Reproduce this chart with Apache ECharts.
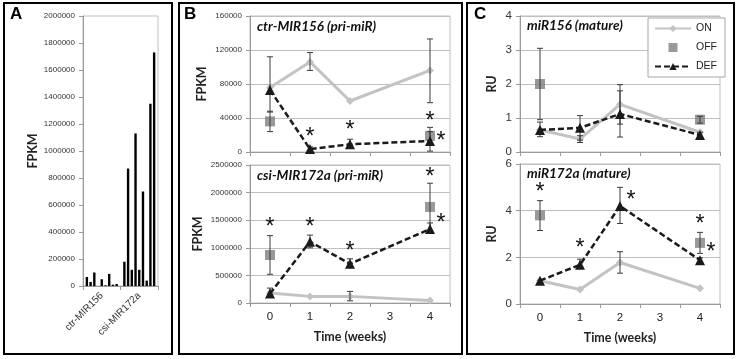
<!DOCTYPE html>
<html><head><meta charset="utf-8">
<script src="https://cdn.jsdelivr.net/npm/echarts@6/dist/echarts.min.js"></script>
<style>html,body{margin:0;padding:0;background:#fff}#c{width:737px;height:359px}</style>
</head><body><div id="c"></div>
<script>
// ---------- Panel A ----------
const aCategories = ['ctr-MIR156', 'csi-MIR172a'];
const aCtr = [67000, 30000, 100000, 0, 50000, 5000, 90000, 10000, 15000];
const aCsi = [180000, 870000, 120000, 1130000, 120000, 700000, 40000, 1350000, 1730000];

// ---------- shared x categories ----------
const weeks = ['0', '1', '2', '3', '4'];

// ---------- Panel B top: ctr-MIR156 (pri-miR) ----------
const onB1 = [76000, 106000, 60000, null, 96000];
const onB1Err = [[47000, 112000], [96000, 117000], null, null, [58000, 133000]];
const offB1 = [36000, null, null, null, 19000];
const offB1Err = [[24000, 48000], null, null, null, [10000, 29000]];
const defB1 = [73000, 3500, 9000, null, 13000];
const defB1Err = [null, [1000, 6000], [5000, 15000], null, [1000, 24000]];
const astB1Above = [[1, 19000], [2, 27000], [4, 38000]];
const astB1Right = [[4, 14000]];

// ---------- Panel B bottom: csi-MIR172a (pri-miR) ----------
const onB2 = [180000, 120000, 120000, null, 45000];
const onB2Err = [null, null, [40000, 210000], null, null];
const offB2 = [870000, null, null, null, 1740000];
const offB2Err = [[520000, 1220000], null, null, null, [1310000, 2170000]];
const defB2 = [170000, 1110000, 710000, null, 1340000];
const defB2Err = [[150000, 270000], [1000000, 1230000], [640000, 800000], null, [1290000, 1450000]];
const astB2Above = [[0, 1400000], [1, 1400000], [2, 970000], [4, 2300000]];
const astB2Right = [[4, 1470000]];

// ---------- Panel C top: miR156 (mature) ----------
const onC1 = [0.65, 0.38, 1.4, null, 0.58];
const onC1Err = [[0.45, 0.88], [0.28, 0.48], [0.82, 1.98], null, null];
const offC1 = [2.0, null, null, null, 0.95];
const offC1Err = [[0.95, 3.05], null, null, null, [0.85, 1.05]];
const defC1 = [0.65, 0.71, 1.12, null, 0.5];
const defC1Err = [null, [0.35, 1.07], [0.44, 1.8], null, [0.42, 0.58]];

// ---------- Panel C bottom: miR172a (mature) ----------
const onC2 = [1.0, 0.62, 1.78, null, 0.67];
const onC2Err = [null, null, [1.32, 2.24], null, null];
const offC2 = [3.8, null, null, null, 2.62];
const offC2Err = [[3.15, 4.43], null, null, null, [2.17, 3.07]];
const defC2 = [1.0, 1.68, 4.2, null, 1.88];
const defC2Err = [null, [1.52, 1.92], [3.45, 5.0], null, [1.78, 1.98]];
const astC2Above = [[0, 4.85], [1, 2.45], [4, 3.5]];
const astC2Right = [[2, 4.5], [4, 2.3]];

// ---------- styles ----------
const FONT = 'Liberation Sans, Arial, sans-serif';
const TFONT = 'Lato, Open Sans, sans-serif';
const GRIDC = '#bfbfbf';
const ON_C = '#c3c3c3', OFF_C = '#808080', DEF_C = '#1a1a1a', ERR_C = '#3a3a3a';
const plain = v => String(v);

const chart = echarts.init(document.getElementById('c'), null, {renderer: 'canvas'});

function errSeries(gi, errs) {
  const data = [];
  errs.forEach((e, i) => { if (e) data.push([i, e[0], e[1]]); });
  return {
    type: 'custom', xAxisIndex: gi, yAxisIndex: gi, data, silent: true, z: 4,
    renderItem(params, api) {
      const x = api.value(0);
      const lo = api.coord([x, api.value(1)]);
      const hi = api.coord([x, api.value(2)]);
      const w = 3;
      const st = {stroke: ERR_C, lineWidth: 1};
      return {type: 'group', children: [
        {type: 'line', shape: {x1: lo[0], y1: lo[1], x2: hi[0], y2: hi[1]}, style: st},
        {type: 'line', shape: {x1: lo[0] - w, y1: lo[1], x2: lo[0] + w, y2: lo[1]}, style: st},
        {type: 'line', shape: {x1: hi[0] - w, y1: hi[1], x2: hi[0] + w, y2: hi[1]}, style: st}
      ]};
    }
  };
}
function astSeries(gi, pts, dx) {
  return {
    type: 'scatter', xAxisIndex: gi, yAxisIndex: gi, data: pts, silent: true, z: 6,
    symbolSize: 1, itemStyle: {opacity: 0},
    label: {show: true, formatter: '*', position: 'inside', offset: [dx, 2],
      fontSize: 23, fontFamily: FONT, color: '#111', opacity: 1}
  };
}
function trioSeries(gi, on, off, def) {
  return [
    {name: 'ON', type: 'line', xAxisIndex: gi, yAxisIndex: gi, data: on, z: 3,
      symbol: 'diamond', symbolSize: 8, connectNulls: true,
      lineStyle: {color: ON_C, width: 3}, itemStyle: {color: ON_C}},
    {name: 'OFF', type: 'scatter', xAxisIndex: gi, yAxisIndex: gi, data: off, z: 3,
      symbol: 'rect', symbolSize: 10, itemStyle: {color: OFF_C}},
    {name: 'DEF', type: 'line', xAxisIndex: gi, yAxisIndex: gi, data: def, z: 5,
      symbol: 'triangle', symbolSize: 10, connectNulls: true,
      lineStyle: {color: DEF_C, width: 2.5, type: [6, 3]}, itemStyle: {color: DEF_C}}
  ];
}

const grids = [
  {left: 83, top: 16, width: 75, height: 270},
  {left: 250, top: 16, width: 200, height: 136},
  {left: 250, top: 165, width: 200, height: 138},
  {left: 520, top: 16, width: 200, height: 136},
  {left: 520, top: 164, width: 200, height: 140}
].map(g => Object.assign({show: true, borderColor: GRIDC, borderWidth: 1, containLabel: false}, g));

function xAx(gi, showLabels, name) {
  return {
    gridIndex: gi, type: 'category', data: weeks, boundaryGap: true,
    axisLine: {lineStyle: {color: '#9a9a9a'}},
    axisTick: {show: true, interval: 0, length: 4, lineStyle: {color: '#9a9a9a'}},
    axisLabel: {show: showLabels, fontSize: 11.5, fontFamily: FONT, color: '#222', margin: 8},
    name: name || '', nameLocation: 'middle', nameGap: 27,
    nameTextStyle: {fontSize: 12.5, fontWeight: 'bold', fontFamily: TFONT, color: '#222'},
    splitLine: {show: false}
  };
}
function yAx(gi, max, interval, name, fs, gap) {
  return {
    gridIndex: gi, type: 'value', min: 0, max, interval,
    axisLine: {show: true, lineStyle: {color: '#9a9a9a'}},
    axisTick: {show: true, length: 4, lineStyle: {color: '#9a9a9a'}},
    axisLabel: {fontSize: fs, fontFamily: FONT, color: '#333', margin: 8, formatter: plain},
    splitLine: {show: true, lineStyle: {color: GRIDC, width: 1}},
    name, nameLocation: 'middle', nameGap: gap, nameRotate: 90,
    nameTextStyle: {fontSize: 12.5, fontWeight: 'bold', fontFamily: TFONT, color: '#222'}
  };
}

const xAxes = [
  {gridIndex: 0, type: 'category', data: aCategories, boundaryGap: true,
    axisLine: {lineStyle: {color: '#9a9a9a'}},
    axisTick: {show: true, interval: 0, length: 4, lineStyle: {color: '#9a9a9a'}},
    axisLabel: {interval: 0, rotate: 45, fontSize: 10, fontFamily: FONT, color: '#333', margin: 8}},
  xAx(1, false), xAx(2, true, 'Time (weeks)'), xAx(3, false), xAx(4, true, 'Time (weeks)')
];
const yAxes = [
  Object.assign(yAx(0, 2000000, 200000, 'FPKM', 8, 44), {splitLine: {show: false}}),
  yAx(1, 160000, 40000, 'FPKM', 8, 42),
  yAx(2, 2500000, 500000, 'FPKM', 8, 46),
  yAx(3, 4, 1, 'RU', 11.5, 22),
  yAx(4, 6, 2, 'RU', 11.5, 22)
];

const series = [];
for (let i = 0; i < aCtr.length; i++) {
  series.push({name: 's' + i, type: 'bar', xAxisIndex: 0, yAxisIndex: 0,
    data: [aCtr[i], aCsi[i]], barWidth: 2.4, barGap: '55%', itemStyle: {color: '#000'}});
}
series.push(...trioSeries(1, onB1, offB1, defB1),
  errSeries(1, onB1Err), errSeries(1, offB1Err), errSeries(1, defB1Err),
  astSeries(1, astB1Above, 0), astSeries(1, astB1Right, 11));
series.push(...trioSeries(2, onB2, offB2, defB2),
  errSeries(2, onB2Err), errSeries(2, offB2Err), errSeries(2, defB2Err),
  astSeries(2, astB2Above, 0), astSeries(2, astB2Right, 11));
series.push(...trioSeries(3, onC1, offC1, defC1),
  errSeries(3, onC1Err), errSeries(3, offC1Err), errSeries(3, defC1Err));
series.push(...trioSeries(4, onC2, offC2, defC2),
  errSeries(4, onC2Err), errSeries(4, offC2Err), errSeries(4, defC2Err),
  astSeries(4, astC2Above, 0), astSeries(4, astC2Right, 11));

const tStyle = {fontSize: 13.5, fontWeight: 'bold', fontStyle: 'italic', fontFamily: TFONT, color: '#111'};
const lStyle = {fontSize: 17, fontWeight: 'bold', fontFamily: FONT, color: '#000'};
const titles = [
  {text: 'A', left: 10, top: 6, textStyle: lStyle},
  {text: 'B', left: 184, top: 6, textStyle: lStyle},
  {text: 'C', left: 474, top: 6, textStyle: lStyle},
  {text: 'ctr-MIR156 (pri-miR)', left: 257, top: 20, textStyle: tStyle},
  {text: 'csi-MIR172a (pri-miR)', left: 257, top: 169, textStyle: tStyle},
  {text: 'miR156 (mature)', left: 527, top: 19, textStyle: tStyle},
  {text: 'miR172a (mature)', left: 527, top: 167, textStyle: tStyle}
].map(t => Object.assign({padding: 0}, t));

const panelBox = (x, w) => ({type: 'rect', shape: {x, y: 3, width: w, height: 351},
  style: {fill: 'none', stroke: '#000', lineWidth: 2}, silent: true});

chart.setOption({
  animation: false,
  backgroundColor: '#fff',
  textStyle: {fontFamily: FONT},
  title: titles,
  grid: grids,
  xAxis: xAxes,
  yAxis: yAxes,
  legend: {data: ['ON', {name: 'OFF', icon: 'path://M0,0H10V10H0Z'}, 'DEF'],
    orient: 'vertical', left: 648, top: 18,
    itemWidth: 36, itemHeight: 9, itemGap: 8, padding: [5, 8, 5, 6],
    backgroundColor: '#fff', borderColor: '#a6a6a6', borderWidth: 1, selectedMode: false,
    textStyle: {fontSize: 10.5, fontFamily: FONT, color: '#222'}},
  graphic: [panelBox(4, 168), panelBox(179, 283), panelBox(467, 267)],
  series
});
</script>
</body></html>
